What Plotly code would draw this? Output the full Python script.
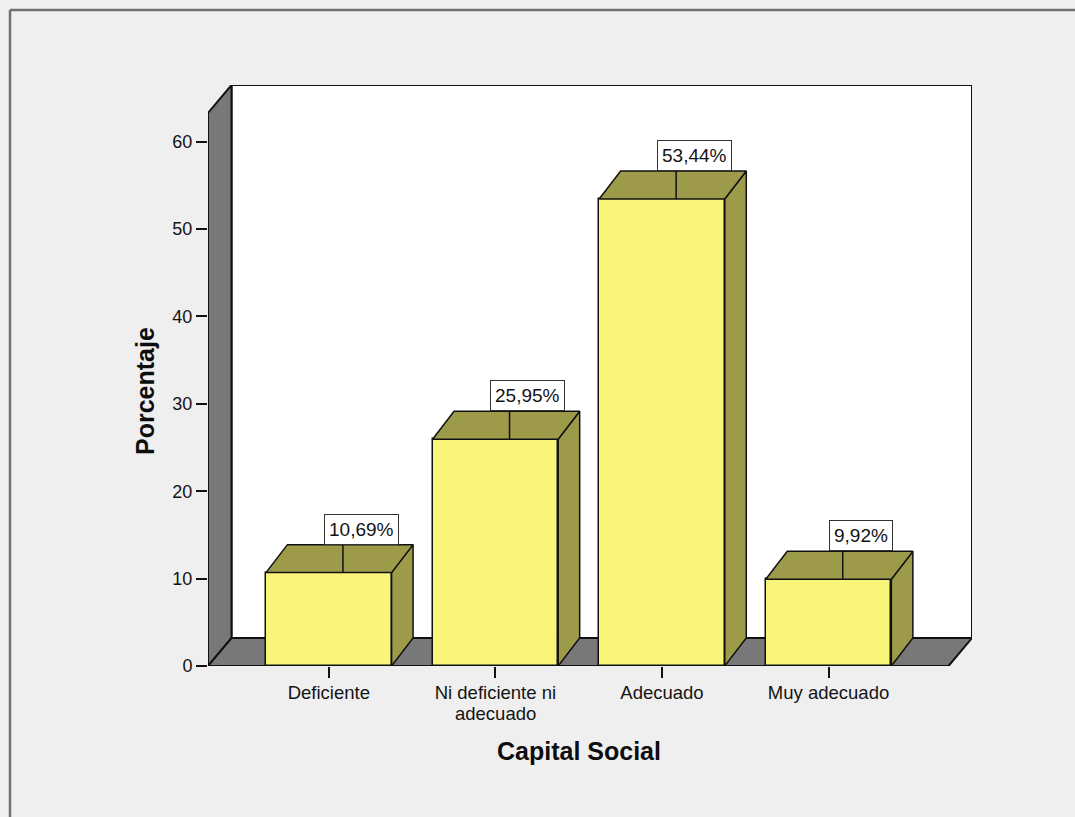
import plotly.graph_objects as go

# ---- data ----
categories = ["Deficiente", "Ni deficiente ni<br>adecuado", "Adecuado", "Muy adecuado"]
percentages = [10.69, 25.95, 53.44, 9.92]
y_ticks = [0, 10, 20, 30, 40, 50, 60]

# ---- geometry / style ----
W, H = 1075, 817
L, R, T, B = 208, 103, 85, 151
X_RANGE = [-0.725, 3.861]
Y_RANGE = [0, 66.49]
BAR_W = 0.754
BAR_DX, BAR_DY = 0.129, 3.2      # depth offset of the bars
WALL_DX, WALL_DY = 0.141, 3.2    # depth offset of the walls/floor
LEAD_DX = 0.085                  # leader line position inside the top face
BOX_DX = 0.195                   # label box centre offset

FRONT = "#f9f47a"
SHADE = "#9d9a4a"
WALL = "#787878"
BG = "#efefef"
EDGE = "#111111"
TEXT = "#141414"
FONT = "Arial, Liberation Sans, sans-serif"
TICK_SIZE = 18.5
LINE_STEP = 22                   # px between lines of a wrapped category label

pw, ph = W - L - R, H - T - B


def px_to_paper(px, py):
    return (px - L) / pw, (H - B - py) / ph


x0, x1 = X_RANGE
ytop = Y_RANGE[1]

fig = go.Figure()

# walls and floor
back_wall = (f"M{x0 + WALL_DX},{WALL_DY} L{x1},{WALL_DY} L{x1},{ytop} "
             f"L{x0 + WALL_DX},{ytop} Z")
left_wall = (f"M{x0},0 L{x0},{ytop - WALL_DY} L{x0 + WALL_DX},{ytop} "
             f"L{x0 + WALL_DX},{WALL_DY} Z")
floor = (f"M{x0},0 L{x1 - WALL_DX},0 L{x1},{WALL_DY} "
         f"L{x0 + WALL_DX},{WALL_DY} Z")
shapes = [
    dict(type="path", path=back_wall, xref="x", yref="y", fillcolor="white",
         line=dict(color=EDGE, width=2), layer="below"),
    dict(type="path", path=left_wall, xref="x", yref="y", fillcolor=WALL,
         line=dict(color=EDGE, width=2), layer="below"),
    dict(type="path", path=floor, xref="x", yref="y", fillcolor=WALL,
         line=dict(color=EDGE, width=2), layer="below"),
]

# outer frame lines (top and left)
fx, fy = px_to_paper(10, 10)
fx2, _ = px_to_paper(W + 5, 10)
_, fyb = px_to_paper(10, H + 5)
shapes.append(dict(type="line", xref="paper", yref="paper", x0=fx, x1=fx2,
                   y0=fy, y1=fy, line=dict(color="#707070", width=2.5)))
shapes.append(dict(type="line", xref="paper", yref="paper", x0=fx, x1=fx,
                   y0=fy, y1=fyb, line=dict(color="#707070", width=2.5)))

# side and top faces of the bars
for i, v in enumerate(percentages):
    xl, xr = i - BAR_W / 2, i + BAR_W / 2
    side_x = [xr, xr + BAR_DX, xr + BAR_DX, xr, xr]
    side_y = [0, BAR_DY, v + BAR_DY, v, 0]
    top_x = [xl, xr, xr + BAR_DX, xl + BAR_DX, xl]
    top_y = [v, v, v + BAR_DY, v + BAR_DY, v]
    for fx_, fy_ in ((side_x, side_y), (top_x, top_y)):
        fig.add_trace(go.Scatter(
            x=fx_, y=fy_, mode="lines", fill="toself", fillcolor=SHADE,
            line=dict(color=EDGE, width=1.5), hoverinfo="skip",
            showlegend=False))
    # leader line across the top face
    fig.add_trace(go.Scatter(
        x=[i + LEAD_DX, i + LEAD_DX], y=[v, v + BAR_DY], mode="lines",
        line=dict(color=EDGE, width=1.5), hoverinfo="skip", showlegend=False))

# front faces
fig.add_trace(go.Bar(
    x=list(range(len(categories))), y=percentages, width=BAR_W,
    marker=dict(color=FRONT, line=dict(color=EDGE, width=1.5)),
    showlegend=False, hoverinfo="skip"))

# value labels
annotations = []
for i, v in enumerate(percentages):
    annotations.append(dict(
        x=i + BOX_DX, y=v + BAR_DY, xref="x", yref="y",
        text=f"{v:.2f}%".replace(".", ","), showarrow=False,
        xanchor="center", yanchor="bottom",
        font=dict(family=FONT, size=19, color=TEXT),
        bgcolor="white", bordercolor="#333333", borderwidth=1, borderpad=4))

# category labels: first line as tick text, further lines set just below
first_lines = []
for i, cat in enumerate(categories):
    parts = cat.split("<br>")
    first_lines.append(parts[0])
    for k, extra in enumerate(parts[1:], start=1):
        _, ly = px_to_paper(0, 691 + k * LINE_STEP)
        annotations.append(dict(
            x=i, y=ly, xref="x", yref="paper", text=extra, showarrow=False,
            xanchor="center", yanchor="middle",
            font=dict(family=FONT, size=TICK_SIZE, color=TEXT)))

# axis titles
tx, ty = px_to_paper(145, 391)
annotations.append(dict(
    x=tx, y=ty, xref="paper", yref="paper", text="<b>Porcentaje</b>",
    textangle=-90, showarrow=False, xanchor="center", yanchor="middle",
    font=dict(family=FONT, size=25, color="#0d0d0d")))
tx, ty = px_to_paper(579, 751)
annotations.append(dict(
    x=tx, y=ty, xref="paper", yref="paper", text="<b>Capital Social</b>",
    showarrow=False, xanchor="center", yanchor="middle",
    font=dict(family=FONT, size=25, color="#0d0d0d")))

fig.update_layout(
    width=W, height=H,
    margin=dict(l=L, r=R, t=T, b=B, pad=0),
    paper_bgcolor=BG, plot_bgcolor=BG,
    shapes=shapes, annotations=annotations,
    bargap=0,
    xaxis=dict(range=X_RANGE, tickvals=list(range(len(categories))),
               ticktext=first_lines, ticks="outside", ticklen=11,
               tickwidth=1.5, tickcolor=EDGE, showgrid=False,
               zeroline=False, showline=False, fixedrange=True,
               ticklabelstandoff=-1,
               tickfont=dict(family=FONT, size=TICK_SIZE, color=TEXT)),
    yaxis=dict(range=Y_RANGE, tickvals=y_ticks, ticks="outside",
               ticklen=11, tickwidth=1.5, tickcolor=EDGE, showgrid=False,
               zeroline=False, showline=False, fixedrange=True,
               ticklabelstandoff=0,
               tickfont=dict(family=FONT, size=18, color=TEXT)),
)

fig.write_html("out.html")
